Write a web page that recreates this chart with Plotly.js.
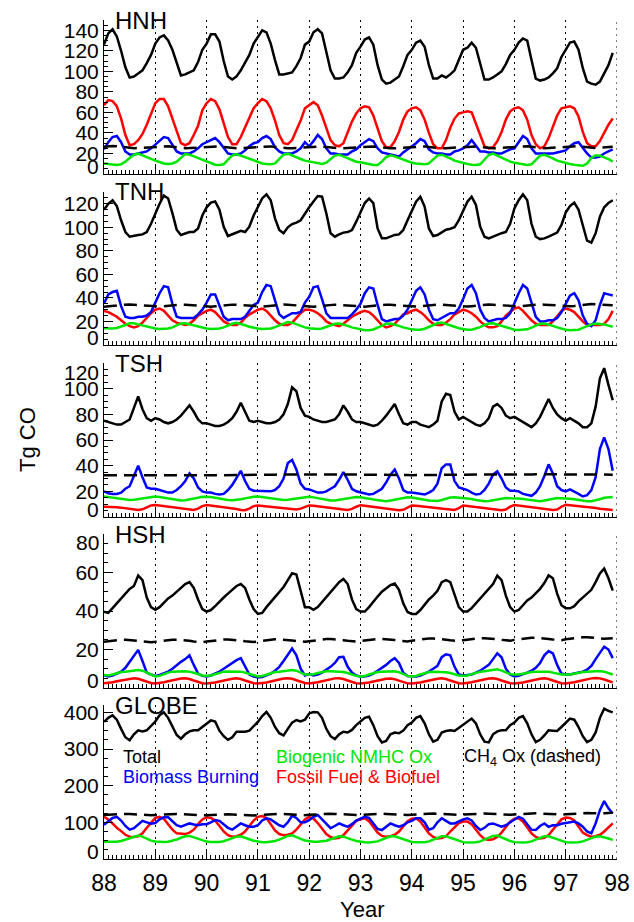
<!DOCTYPE html>
<html>
<head>
<meta charset="utf-8">
<script src="https://cdn.plot.ly/plotly-3.0.1.min.js"></script>
<style>
  html, body { margin: 0; padding: 0; background: #fff; }
  #chart { width: 634px; height: 922px; }
</style>
</head>
<body>
<div id="chart"></div>
<script>
// Monthly CO burden by source tag, Jan 1988 .. Dec 1997 (Tg CO).
// One row per year, twelve months each.

const HNH_TOTAL = [
  126, 137, 141, 134, 120, 104, 94, 95, 98, 101, 108, 116,
  127, 133, 135, 130, 121, 108, 96, 97, 99, 101, 109, 121,
  127, 136, 136, 129, 110, 95, 92, 95, 101, 108, 116, 127,
  134, 140, 138, 127, 111, 97, 97, 98, 99, 105, 113, 126,
  129, 138, 141, 137, 118, 101, 93, 93, 94, 99, 106, 118,
  124, 131, 133, 126, 106, 92, 88, 89, 92, 95, 105, 116,
  121, 128, 130, 124, 106, 93, 93, 96, 94, 97, 101, 111,
  121, 123, 128, 123, 108, 92, 92, 94, 97, 100, 107, 116,
  121, 128, 132, 130, 111, 93, 91, 92, 94, 98, 103, 114,
  121, 128, 129, 121, 103, 90, 88, 87, 90, 98, 106, 118
];
const HNH_FOSSIL = [
  67, 72, 71, 66, 54, 38, 28, 29, 33, 39, 48, 58,
  69, 73, 73, 66, 54, 40, 30, 28, 30, 38, 47, 62,
  69, 73, 71, 63, 49, 36, 29, 29, 36, 45, 54, 64,
  69, 73, 71, 64, 52, 38, 30, 29, 33, 43, 52, 64,
  67, 70, 67, 57, 45, 33, 28, 27, 30, 41, 51, 59,
  64, 66, 65, 57, 45, 32, 26, 26, 32, 41, 53, 61,
  64, 65, 62, 53, 40, 29, 25, 25, 33, 45, 54, 59,
  60, 61, 60, 49, 36, 27, 25, 26, 32, 41, 53, 61,
  64, 65, 62, 53, 38, 29, 25, 27, 35, 46, 57, 64,
  65, 66, 64, 56, 41, 30, 27, 27, 32, 40, 48, 54
];
const HNH_BIOMASS = [
  24, 31, 36, 37, 31, 22, 19, 19, 20, 21, 22, 25,
  29, 32, 36, 35, 28, 22, 20, 20, 20, 22, 25, 29,
  31, 33, 35, 31, 25, 20, 19, 19, 20, 23, 27, 30,
  31, 35, 37, 34, 26, 22, 20, 20, 20, 22, 25, 31,
  27, 32, 38, 34, 25, 20, 20, 19, 19, 19, 22, 24,
  28, 31, 34, 32, 25, 21, 20, 19, 18, 17, 21, 24,
  27, 30, 34, 32, 24, 21, 20, 20, 19, 19, 22, 23,
  25, 28, 33, 27, 22, 22, 21, 21, 20, 20, 22, 24,
  25, 31, 37, 34, 25, 20, 20, 20, 20, 20, 21, 22,
  23, 27, 30, 31, 25, 20, 16, 16, 17, 20, 22, 24
];
const HNH_BIOGENIC = [
  10.3, 9.7, 9.4, 8.7, 9.4, 12, 15.6, 18.8, 19.8, 17.9, 16.2, 14.6,
  13, 11.7, 10.3, 9.7, 10.3, 12, 15.6, 19.5, 18.8, 17.2, 15.3, 14,
  12, 10.3, 9, 8.7, 9.4, 14, 17.9, 19.5, 17.9, 16.2, 14.6, 13,
  11.7, 10.3, 9.7, 9.4, 10.3, 14.6, 18.8, 19.8, 17.9, 15.9, 14.6, 13,
  12, 11, 10.3, 9.7, 11, 14.6, 17.9, 18.8, 17.2, 15.6, 14, 12,
  11.4, 10.3, 9.4, 8.7, 8.7, 12, 16.5, 18.2, 17.2, 15.6, 14, 12,
  11, 10.3, 9.7, 9.4, 10.3, 14, 17.9, 18.8, 17.2, 15.3, 13, 11.7,
  10.6, 9.7, 9, 8.7, 9.4, 14, 18.5, 19.8, 17.9, 15.9, 14, 12,
  11, 10, 9.4, 8.7, 9.4, 14, 17.9, 18.8, 17.2, 15.3, 13, 11.7,
  10.3, 9.7, 9, 8.4, 8, 10.3, 15.6, 18.2, 17.9, 16.2, 14.6, 12
];
const HNH_CH4 = [
  26.5, 27, 27.2, 27, 26.5, 26, 25.5, 25.2, 25.3, 25.6, 26, 26.3,
  26.6, 27, 27.2, 27, 26.5, 26, 25.5, 25.2, 25.3, 25.6, 26, 26.3,
  26.5, 26.9, 27.1, 26.9, 26.4, 25.9, 25.4, 25.1, 25.2, 25.5, 25.9, 26.2,
  26.5, 26.9, 27.1, 26.9, 26.4, 25.9, 25.4, 25.1, 25.2, 25.5, 25.9, 26.2,
  26.4, 26.8, 27, 26.8, 26.3, 25.8, 25.3, 25, 25.1, 25.4, 25.8, 26.1,
  26.4, 26.8, 27, 26.8, 26.3, 25.8, 25.3, 25, 25.1, 25.4, 25.8, 26.1,
  26.5, 26.9, 27.1, 26.9, 26.4, 25.9, 25.4, 25.1, 25.2, 25.5, 25.9, 26.2,
  26.5, 26.9, 27.1, 26.9, 26.4, 25.9, 25.4, 25.1, 25.2, 25.5, 25.9, 26.2,
  26.6, 27, 27.2, 27, 26.5, 26, 25.5, 25.2, 25.3, 25.6, 26, 26.3,
  26.7, 27.1, 27.3, 27.1, 26.6, 26.1, 25.6, 25.3, 25.5, 25.8, 26.2, 26.6
];

const TNH_TOTAL = [
  115, 120, 123, 118, 106, 96, 92, 93, 93.5, 94, 96, 103,
  112, 120, 127, 124.5, 112, 98, 93.5, 95, 96, 96, 99, 110,
  117, 121, 122, 115, 100.5, 92.6, 94, 96, 97, 96, 100.5, 110,
  118, 124.5, 128, 123, 107.6, 97.7, 95, 100, 102.8, 104, 106, 112,
  117, 122, 126.6, 126, 112, 95, 92, 94, 95.5, 96, 97.7, 104.8,
  113.4, 120.6, 124.5, 120.6, 99, 90.6, 90.6, 92, 93.5, 94, 97.7, 106,
  114, 121.8, 126, 117.5, 99, 92.6, 93.5, 95.5, 98, 98.8, 100, 106,
  114.7, 121.8, 126, 119, 100.5, 92, 90.6, 92, 94, 95, 96, 103,
  116, 123, 128, 123, 103, 92, 90, 90.6, 92, 93.5, 95.5, 102,
  112.5, 118, 121, 115, 100.5, 88.6, 87, 95, 109, 117, 120.6, 123
];
const TNH_FOSSIL = [
  29, 28, 26, 24, 21, 18, 16, 15, 16, 19, 23, 27,
  30, 31, 29, 25, 21, 19, 18, 17, 18, 21, 25, 27,
  29, 30, 28, 24, 20, 18, 17, 17, 19, 23, 26, 28,
  30, 31, 29, 25, 21, 18, 17, 17, 19, 23, 27, 30,
  30, 29, 27, 24, 20, 18, 17, 16, 18, 21, 24, 26,
  28, 29, 28, 25, 21, 17, 15, 16, 18, 22, 26, 27,
  29, 30, 28, 25, 21, 18, 17, 17, 19, 22, 26, 28,
  30, 29, 27, 24, 20, 17, 15, 15, 16, 20, 25, 28,
  31, 32, 29, 25, 21, 18, 17, 17, 17, 20, 25, 29,
  31, 30, 28, 24, 20, 17, 17, 17, 17, 18, 22, 29
];
const TNH_BIOMASS = [
  35, 43, 45, 46, 33, 24, 23, 23, 24, 24, 25, 28,
  36, 44, 50, 49, 35, 24, 23, 23, 23, 23, 26, 30,
  36, 43, 43, 33, 24, 21, 22, 22, 22, 24, 29, 34,
  36, 45, 51, 50, 38, 26, 23, 25, 27, 27, 28, 36,
  41, 49, 50, 39, 27, 23, 23, 23, 23, 23, 26, 30,
  35, 44, 49, 48, 34, 22, 20, 21, 22, 22, 25, 30,
  38, 46, 49, 43, 30, 22, 21, 23, 25, 27, 27, 31,
  39, 48, 51, 44, 30, 23, 20, 21, 22, 22, 23, 27,
  36, 44, 51, 48, 36, 24, 20, 20, 21, 21, 23, 28,
  35, 42, 44, 38, 25, 18, 16, 21, 34, 44, 43, 42
];
const TNH_BIOGENIC = [
  14.2, 14, 14, 14.5, 15.5, 17, 18.5, 18.5, 17.5, 16.5, 15.5, 14.5,
  14, 13.5, 13.5, 14, 15, 16.5, 18.3, 18.5, 17.5, 16.5, 15.5, 14.5,
  14, 13.5, 13.5, 14, 15, 16.5, 18, 18.8, 18, 16.8, 15.5, 14.5,
  14, 13.5, 13.5, 14, 15.2, 16.8, 18.5, 19.5, 19, 17.5, 16, 15,
  14.2, 13.8, 13.5, 14, 15.2, 16.8, 18, 18.3, 17.5, 16.3, 15, 14,
  13, 12.5, 12.5, 13.2, 14.8, 16.5, 18, 18.3, 17.5, 16.3, 15, 14,
  13.3, 13, 13, 13.8, 15.2, 17, 18.5, 19, 18, 16.8, 15.5, 14.3,
  13.5, 13, 13, 13.8, 15.2, 17, 18.3, 18.5, 17.5, 16.3, 15, 14,
  13, 12.7, 12.7, 13.3, 14.8, 16.5, 18, 18.3, 17.5, 16.3, 15, 13.8,
  13, 12.5, 12.5, 13, 14.5, 16, 17.5, 18.3, 18, 17.5, 16.5, 15.5
];
const TNH_CH4 = [
  32.6, 32.7, 33, 33.5, 34, 34.3, 34.4, 34.2, 33.9, 33.5, 33.1, 32.8,
  32.6, 32.7, 33, 33.5, 34, 34.3, 34.4, 34.2, 33.9, 33.5, 33.1, 32.8,
  32.5, 32.6, 32.9, 33.4, 33.9, 34.2, 34.3, 34.1, 33.8, 33.4, 33, 32.7,
  32.6, 32.7, 33, 33.5, 34, 34.3, 34.4, 34.2, 33.9, 33.5, 33.1, 32.8,
  32.5, 32.6, 32.9, 33.4, 33.9, 34.2, 34.3, 34.1, 33.8, 33.4, 33, 32.7,
  32.5, 32.6, 32.9, 33.4, 33.9, 34.2, 34.3, 34.1, 33.8, 33.4, 33, 32.7,
  32.6, 32.7, 33, 33.5, 34, 34.3, 34.4, 34.2, 33.9, 33.5, 33.1, 32.8,
  32.6, 32.7, 33, 33.5, 34, 34.3, 34.4, 34.2, 33.9, 33.5, 33.1, 32.8,
  32.7, 32.8, 33.1, 33.6, 34.1, 34.4, 34.5, 34.3, 34, 33.6, 33.2, 32.9,
  32.8, 32.9, 33.2, 33.7, 34.2, 34.6, 34.8, 34.7, 34.5, 34.2, 33.9, 33.7
];

const TSH_TOTAL = [
  75, 74, 73, 72, 72, 74, 76, 85, 94, 84, 77, 75,
  77, 76, 74, 73, 74, 76, 79, 83, 87, 82, 76, 73,
  73, 72, 71, 71, 72, 74, 77, 82, 89, 82, 75, 74,
  75, 74, 73, 73, 74, 76, 80, 88, 101, 98, 85, 79,
  78, 76, 75, 74, 74, 75, 76, 80, 87, 82, 76, 74,
  74, 73, 72, 71, 72, 75, 79, 84, 88, 80, 73, 72,
  74, 74, 72, 71, 70, 72, 75, 90, 96, 95, 82, 76,
  78, 76, 74, 72, 71, 73, 77, 86, 88, 85, 79, 77,
  78, 76, 74, 72, 70, 73, 78, 85, 92, 85, 80, 77,
  75, 77, 75, 73, 70, 70, 73, 86, 108, 116, 103, 91
];
const TSH_FOSSIL = [
  8, 8, 7.8, 7.5, 7.3, 7, 6.5, 6, 5.5, 6, 7.5, 9,
  9.4, 9, 8.5, 8, 7.5, 7.2, 6.8, 6.5, 6, 5.5, 6.5, 8.5,
  9.4, 9, 8.5, 8, 7.6, 7.2, 6.8, 6.3, 5.5, 5.3, 6.5, 8.5,
  9, 8.6, 8.3, 8, 7.6, 7.3, 7, 6.5, 6, 5.8, 6.5, 8,
  9, 8.8, 8.3, 8, 7.5, 7, 6.7, 6.3, 5.8, 5.5, 6.3, 8,
  9.2, 8.8, 8.4, 8, 7.5, 7.2, 6.8, 6.2, 5.5, 5.2, 5.6, 7.5,
  9, 8.7, 8.3, 8, 7.6, 7.2, 6.8, 6.4, 6, 5.6, 5.5, 7,
  9, 8.6, 8.2, 7.8, 7.5, 7.2, 6.8, 6.3, 5.7, 5.3, 5.8, 8,
  9.4, 9, 8.6, 8.2, 7.8, 7.4, 7, 6.5, 6, 5.5, 5.8, 8,
  9.5, 9.2, 8.8, 8.3, 7.8, 7.5, 7.2, 7, 6.5, 6, 5.5, 5.5
];
const TSH_BIOMASS = [
  20, 18.5, 18, 18, 19, 22, 24, 32, 40, 31, 23, 22,
  22, 21, 20, 19, 19, 21, 24, 28, 34, 30, 23, 20,
  19, 19, 18, 17.5, 18, 21, 25, 30, 36, 28, 22, 20.5,
  20.5, 20.5, 20.5, 20, 21, 24, 30, 42, 44.5, 37, 26, 22,
  21.5, 20, 19, 19, 20, 22, 24, 29, 35, 29, 22, 20,
  19, 18, 17.5, 18, 20, 22, 27, 33, 37, 30, 21, 19,
  19, 18.5, 17.5, 17.5, 19, 21, 26, 38, 41, 41, 28, 23,
  22, 21, 19, 17.5, 18, 21, 26, 33, 35.5, 30, 23, 20.5,
  20.5, 20, 18, 17, 16.5, 19, 24, 32, 41, 34, 24, 21,
  20, 21.5, 20, 18, 16, 17, 21, 31, 53, 62, 53, 36
];
const TSH_BIOGENIC = [
  16, 15.5, 15, 14.5, 14, 13.5, 13.3, 13.5, 14, 14.5, 15, 15.8,
  16, 15.5, 15, 14.5, 13.8, 13.2, 12.8, 13, 13.5, 14.3, 15, 15.8,
  15.8, 15.5, 15, 14.3, 13.7, 13.2, 13, 13.2, 13.8, 14.5, 15.2, 15.8,
  16, 15.6, 15, 14.5, 14, 13.5, 13.3, 13.5, 14, 14.6, 15.2, 15.8,
  15.8, 15.3, 14.6, 13.8, 13.2, 12.8, 12.8, 13.3, 14, 14.8, 15.3, 15.6,
  15.4, 15, 14.3, 13.6, 13, 12.5, 12.3, 12.8, 13.5, 14.3, 15, 15.3,
  15.2, 14.8, 14.2, 13.5, 12.8, 12.4, 12.5, 13.3, 14.5, 15.2, 15.3, 15,
  14.8, 14.5, 14, 13.3, 12.7, 12.3, 12.4, 13, 13.8, 14.5, 14.8, 14.6,
  14.6, 14.4, 14, 13.5, 12.8, 12.3, 12.3, 12.8, 13.5, 14.2, 14.8, 14.7,
  14.6, 14.3, 13.8, 13.2, 12.6, 12.2, 12.3, 12.8, 13.8, 15, 15.5, 15.5
];
const TSH_CH4 = [
  32.6, 32.6, 32.7, 32.9, 33, 33.1, 33.1, 33, 32.9, 32.8, 32.7, 32.6,
  32.6, 32.6, 32.7, 32.9, 33, 33.1, 33.1, 33, 32.9, 32.8, 32.7, 32.6,
  32.5, 32.5, 32.6, 32.8, 32.9, 33, 33, 32.9, 32.8, 32.7, 32.6, 32.5,
  32.6, 32.6, 32.7, 32.9, 33, 33.1, 33.1, 33, 32.9, 32.8, 32.7, 32.6,
  32.7, 32.7, 32.8, 33, 33.1, 33.2, 33.2, 33.1, 33, 32.9, 32.8, 32.7,
  32.7, 32.7, 32.8, 33, 33.1, 33.2, 33.2, 33.1, 33, 32.9, 32.8, 32.7,
  32.6, 32.6, 32.7, 32.9, 33, 33.1, 33.1, 33, 32.9, 32.8, 32.7, 32.6,
  32.7, 32.7, 32.8, 33, 33.1, 33.2, 33.2, 33.1, 33, 32.9, 32.8, 32.7,
  32.8, 32.8, 32.9, 33.1, 33.2, 33.3, 33.3, 33.2, 33.1, 33, 32.9, 32.8,
  32.8, 32.8, 32.9, 33.1, 33.2, 33.3, 33.3, 33.2, 33.1, 33, 33, 33
];

const HSH_TOTAL = [
  39.7, 39, 41.5, 44, 47, 49.5, 51.5, 53, 58.4, 56, 47, 42,
  40.6, 42, 44.5, 46.5, 48, 50, 52, 54, 55, 52, 46, 41,
  39.7, 40.5, 42.5, 45, 47, 49, 51, 53, 54, 52, 46, 41,
  38.5, 39, 42, 44.5, 47, 49.5, 52.5, 56, 59.6, 59, 51, 42,
  42, 40.6, 42, 44.5, 47.5, 50, 52.5, 55, 56.6, 54, 46, 41,
  39.7, 39.7, 42, 45, 47.5, 50, 52, 53.5, 54.3, 51, 44, 39.5,
  38.5, 38.5, 40.5, 43.5, 46, 48, 50.5, 55, 56, 55, 48, 42,
  39.7, 39.7, 41.5, 44, 46.5, 49, 51, 54, 58.4, 56, 48, 42,
  39.7, 40.5, 43, 45.5, 47, 49, 51.5, 54.5, 58.5, 57, 49, 43,
  41.4, 41.4, 42.5, 45, 47, 49.5, 51, 55, 59.5, 62, 57, 50.6
];
const HSH_FOSSIL = [
  2.5, 2.7, 3, 3.5, 4, 4.5, 4.9, 5.1, 4.8, 4, 3.2, 2.6,
  2.4, 2.6, 3, 3.5, 4.1, 4.6, 4.9, 5, 4.7, 3.9, 3.1, 2.5,
  2.3, 2.5, 2.9, 3.4, 4, 4.5, 4.8, 5, 4.7, 3.9, 3.1, 2.5,
  2.3, 2.5, 2.9, 3.4, 4, 4.5, 4.9, 5.1, 4.8, 4, 3.2, 2.6,
  2.4, 2.6, 3, 3.5, 4.1, 4.6, 5, 5.1, 4.7, 3.9, 3.1, 2.5,
  2.3, 2.5, 2.9, 3.4, 4, 4.5, 4.8, 4.9, 4.6, 3.8, 3, 2.4,
  2.3, 2.5, 2.9, 3.4, 4, 4.5, 4.8, 5, 4.7, 3.9, 3.1, 2.5,
  2.4, 2.6, 3, 3.5, 4.1, 4.6, 4.9, 5, 4.7, 3.9, 3.1, 2.5,
  2.3, 2.5, 2.9, 3.4, 4, 4.5, 4.8, 5, 4.7, 3.9, 3.1, 2.5,
  2.4, 2.6, 3, 3.5, 4.1, 4.6, 5, 5.2, 5, 4.4, 3.6, 2.9
];
const HSH_BIOMASS = [
  6.6, 6, 6.5, 7.5, 8.5, 10.5, 13.6, 17, 19.8, 14, 8, 7,
  6.3, 6.8, 7.5, 8.5, 10, 12, 13.6, 15, 17, 12, 7.5, 6.3,
  6, 6.5, 7.5, 8.5, 10, 11.5, 13, 14.5, 15.5, 11, 7, 6,
  5.5, 5.7, 6.5, 7.5, 9, 11, 14, 17.5, 20.5, 17, 10, 6.5,
  7.2, 6.5, 7, 8, 9.5, 11, 13, 16, 16.2, 11, 8, 6.5,
  6, 6, 6.5, 7.5, 9, 10.5, 12, 14, 15.5, 13, 8, 6.2,
  6, 6, 6.5, 7.5, 8.5, 10, 11.5, 16, 17.5, 17, 11, 7,
  6.6, 6.7, 7, 8, 9, 10.5, 12, 15, 18, 16, 10, 7,
  6, 6.3, 7, 8, 9, 10.5, 13, 17, 19.2, 18, 12, 7.5,
  7, 7, 7.5, 8, 8.5, 9.5, 11.5, 15, 18.5, 21.5, 20, 15.5
];
const HSH_BIOGENIC = [
  6.8, 6.5, 7, 7.8, 8.3, 8.5, 8.7, 9, 9.4, 9, 8, 7,
  6, 6.3, 7.2, 8, 8.5, 8.6, 8.7, 8.7, 8.5, 8, 7.3, 6.5,
  6.3, 6.5, 7.3, 8, 8.5, 8.6, 8.6, 8.6, 8.5, 8, 7.2, 6.5,
  6, 6.2, 7, 7.8, 8.3, 8.5, 8.8, 9.2, 9.4, 9, 8, 7,
  7, 7.2, 7.8, 8.4, 8.7, 8.7, 8.6, 8.5, 8.3, 7.8, 7, 6.3,
  6, 6.2, 7, 7.8, 8.3, 8.5, 8.6, 8.7, 8.7, 8.2, 7.2, 6.3,
  6, 6.3, 7, 7.8, 8.3, 8.5, 8.5, 8.4, 8.2, 7.8, 7, 6.5,
  6.3, 6.5, 7.2, 7.9, 8.4, 8.7, 9, 9.5, 9.7, 9, 8, 7.2,
  7, 7, 7.4, 8, 8.3, 8.5, 8.6, 8.6, 8.5, 8, 7.3, 7,
  7, 7, 7.4, 8, 8.3, 8.5, 8.6, 8.7, 8.8, 8.5, 7.8, 7
];
const HSH_CH4 = [
  24, 24.3, 24.7, 25, 25.1, 25.1, 25, 24.8, 24.5, 24.2, 23.9, 23.8,
  24, 24.3, 24.7, 25, 25.1, 25.1, 25, 24.8, 24.5, 24.2, 23.9, 23.8,
  24.1, 24.4, 24.8, 25.1, 25.2, 25.2, 25.1, 24.9, 24.6, 24.3, 24, 23.9,
  24.2, 24.5, 24.9, 25.2, 25.3, 25.3, 25.2, 25, 24.7, 24.4, 24.1, 24,
  24.3, 24.6, 25, 25.3, 25.4, 25.4, 25.3, 25.1, 24.8, 24.5, 24.2, 24.1,
  24.4, 24.7, 25.1, 25.4, 25.5, 25.5, 25.4, 25.2, 24.9, 24.6, 24.3, 24.2,
  24.6, 24.9, 25.3, 25.6, 25.7, 25.7, 25.6, 25.4, 25.1, 24.8, 24.5, 24.4,
  24.8, 25.1, 25.5, 25.8, 25.9, 25.9, 25.8, 25.6, 25.3, 25, 24.7, 24.6,
  25, 25.3, 25.7, 26, 26.1, 26.1, 26, 25.8, 25.5, 25.2, 24.9, 24.8,
  25.3, 25.6, 26, 26.3, 26.4, 26.4, 26.3, 26.1, 25.8, 25.6, 25.6, 25.8
];

const GLOBE_TOTAL = [
  374, 385, 392, 380, 355, 332, 324, 340, 351, 348, 351, 362,
  375, 392, 400, 385, 360, 338, 328, 340, 348, 351, 351, 360,
  370, 378, 375, 350, 335, 325, 332, 347, 347, 347, 350, 362,
  374, 390, 401, 385, 360, 343, 337, 355, 372, 379, 375, 380,
  397, 401, 400, 385, 355, 335, 327, 340, 347, 345, 352, 365,
  375, 385, 388, 365, 335, 318, 322, 340, 345, 343, 350, 365,
  372, 385, 390, 370, 340, 320, 325, 345, 349, 351, 349, 358,
  365, 375, 383, 370, 340, 320, 318, 340, 348, 351, 351, 365,
  372, 385, 390, 370, 340, 319, 325, 337, 351, 350, 349, 360,
  372, 383, 380, 360, 335, 319, 325, 345, 385, 410, 404, 400
];
const GLOBE_FOSSIL = [
  115, 108, 97, 85, 76, 66, 61, 60, 62, 70, 85, 100,
  112, 115, 110, 95, 80, 70, 68, 68, 72, 80, 95, 108,
  114, 112, 105, 90, 75, 65, 61, 62, 66, 75, 90, 105,
  115, 117, 112, 95, 78, 68, 65, 66, 70, 80, 95, 108,
  115, 110, 98, 82, 68, 60, 56, 58, 65, 78, 92, 104,
  108, 111, 103, 88, 72, 63, 61, 62, 66, 75, 90, 103,
  110, 111, 102, 85, 70, 60, 56, 57, 62, 75, 88, 98,
  102, 102, 95, 80, 65, 55, 52, 54, 60, 72, 88, 102,
  110, 111, 102, 86, 70, 60, 56, 58, 65, 80, 95, 108,
  113, 112, 105, 88, 72, 65, 60, 62, 66, 75, 85, 97
];
const GLOBE_BIOMASS = [
  93, 103, 112, 115, 105, 90, 80, 84, 95, 104, 100, 96,
  98, 108, 114, 114, 103, 92, 88, 93, 97, 94, 92, 95,
  95, 100, 106, 104, 95, 85, 80, 88, 97, 92, 88, 88,
  92, 105, 111, 108, 100, 92, 88, 100, 118, 112, 100, 100,
  106, 115, 120, 108, 94, 84, 90, 97, 92, 88, 95, 105,
  110, 115, 112, 98, 82, 79, 88, 97, 92, 88, 92, 100,
  104, 111, 111, 100, 80, 84, 100, 111, 104, 97, 97, 103,
  108, 111, 105, 90, 79, 85, 95, 97, 92, 88, 92, 100,
  106, 115, 110, 95, 80, 79, 90, 97, 88, 92, 92, 96,
  98, 100, 102, 97, 88, 75, 70, 97, 133, 158, 138, 124
];
const GLOBE_BIOGENIC = [
  47, 46.5, 46.5, 47, 49, 53, 58, 62, 64, 61, 55, 50,
  47.5, 46.5, 46.5, 47, 49, 53, 58, 62, 63, 59, 54, 50,
  47.5, 46.5, 46, 46.5, 48.5, 52.5, 57, 61, 62, 59, 54, 50,
  47, 46, 46, 46.5, 49, 53, 58, 63, 65, 61, 55, 50.5,
  48, 47, 47, 48, 50, 54, 59, 62, 61, 58, 53, 49,
  46.5, 45.5, 45, 45.5, 48, 53, 58, 62, 62, 58, 53, 49,
  46.5, 45.5, 45, 45.5, 48, 53, 58, 62, 62, 58, 53, 49,
  46, 45, 45, 45.5, 48, 53, 59, 63, 64, 59, 53.5, 49,
  46, 45, 45, 45.5, 48, 53, 58, 62, 62, 58, 53, 49,
  46, 45, 45, 45.5, 48, 52, 57, 61, 62, 60, 56, 52
];
const GLOBE_CH4 = [
  120, 121, 122, 122.5, 123, 123, 122.5, 121.5, 120.5, 119.5, 119, 119.5,
  120, 121, 122, 122.5, 123, 123, 122.5, 121.5, 120.5, 119.5, 119, 119.5,
  119, 120, 121, 121.5, 122, 122, 121.5, 120.5, 119.5, 118.5, 118, 118.5,
  120, 121, 122, 122.5, 123, 123, 122.5, 121.5, 120.5, 119.5, 119, 119.5,
  120.5, 121.5, 122.5, 123, 123.5, 123.5, 123, 122, 121, 120, 119.5, 120,
  120.5, 121.5, 122.5, 123, 123.5, 123.5, 123, 122, 121, 120, 119.5, 120,
  121, 122, 123, 123.5, 124, 124, 123.5, 122.5, 121.5, 120.5, 120, 120.5,
  121, 122, 123, 123.5, 124, 124, 123.5, 122.5, 121.5, 120.5, 120, 120.5,
  121.5, 122.5, 123.5, 124, 124.5, 124.5, 124, 123, 122, 121, 120.5, 121,
  122, 123, 124, 125, 125.5, 125.5, 125, 124.5, 124, 124.5, 125.5, 126.5
];

const PANEL_NAMES = ['HNH', 'TNH', 'TSH', 'HSH', 'GLOBE'];
const YEAR_TICKS = [88, 89, 90, 91, 92, 93, 94, 95, 96, 97, 98];
const LEGEND_LABELS = ['Total', 'Biomass Burning', 'Biogenic NMHC Ox', 'Fossil Fuel & Biofuel', 'CH<sub>4</sub> Ox (dashed)'];

// month positions on the year axis (Jan 88 = 88.0)
const MONTHS = Array.from({ length: 120 }, (_, i) => 88 + i / 12);

const PANEL_SERIES = [
  [HNH_TOTAL, HNH_FOSSIL, HNH_BIOMASS, HNH_BIOGENIC, HNH_CH4],
  [TNH_TOTAL, TNH_FOSSIL, TNH_BIOMASS, TNH_BIOGENIC, TNH_CH4],
  [TSH_TOTAL, TSH_FOSSIL, TSH_BIOMASS, TSH_BIOGENIC, TSH_CH4],
  [HSH_TOTAL, HSH_FOSSIL, HSH_BIOMASS, HSH_BIOGENIC, HSH_CH4],
  [GLOBE_TOTAL, GLOBE_FOSSIL, GLOBE_BIOMASS, GLOBE_BIOGENIC, GLOBE_CH4]
];

const FONT = 'Liberation Sans, Arial, Helvetica, sans-serif';
const BLUE = '#0000ff';
const RED = '#ff0000';
const GREEN = '#00e600';
const DOTS = '2px,4px';
const STYLES = [
  { color: '#000', dash: 'solid' },
  { color: RED, dash: 'solid' },
  { color: BLUE, dash: 'solid' },
  { color: GREEN, dash: 'solid' },
  { color: '#000', dash: '13px,7px' }
];

// axis layout per panel, in window pixels (plot area spans y 20..859)
const PLOT_TOP = 20, PLOT_BOTTOM = 859;
const PANEL_PX = [[20, 174], [192, 345], [363, 517], [534, 688], [705, 859]];
const Y_RANGE = [[0, 150], [0, 130], [0, 120], [0, 80], [0, 420]];
const Y_STEP = [20, 20, 20, 20, 100];
const Y_MINOR = [5, 5, 5, 5, 25];
const Y_TOP_LABEL = [140, 120, 120, 80, 400];
const TOP_LABEL_SHIFT = [0, 0, -9, -8, 0];

const frac = px => (PLOT_BOTTOM - px) / (PLOT_BOTTOM - PLOT_TOP);

const traces = [];
const layout = {
  width: 634, height: 922,
  margin: { l: 104, r: 17, t: PLOT_TOP, b: 922 - PLOT_BOTTOM },
  paper_bgcolor: '#fff', plot_bgcolor: '#fff',
  font: { family: FONT, color: '#000', size: 21 },
  showlegend: false,
  annotations: [],
  shapes: []
};

PANEL_NAMES.forEach((name, p) => {
  const n = p === 0 ? '' : String(p + 1);
  const [top, bottom] = PANEL_PX[p];
  const last = p === PANEL_NAMES.length - 1;

  PANEL_SERIES[p].forEach((ys, s) => {
    traces.push({
      type: 'scatter', mode: 'lines',
      x: MONTHS, y: ys,
      xaxis: 'x' + n, yaxis: 'y' + n,
      line: { color: STYLES[s].color, width: 2.5, dash: STYLES[s].dash },
      hoverinfo: 'skip', showlegend: false
    });
  });

  layout['xaxis' + n] = {
    domain: [0, 1], anchor: 'y' + n,
    range: [88, 98], tickmode: 'array', tickvals: YEAR_TICKS,
    ticktext: YEAR_TICKS.map(String),
    showticklabels: last, ticks: 'inside', ticklen: 8, tickwidth: 1, tickcolor: '#000',
    tickfont: { size: 23, family: FONT }, ticklabelstandoff: 3,
    minor: { ticks: 'inside', ticklen: 4, tickwidth: 1, tickcolor: '#000',
             tickmode: 'linear', tick0: 88, dtick: 1 / 12, showgrid: false },
    showgrid: true, gridcolor: '#000', gridwidth: 1, griddash: DOTS,
    showline: true, linecolor: '#000', linewidth: 1, zeroline: false, fixedrange: true
  };

  // right-hand edge at 98 is a dotted year line, not an axis
  layout.shapes.push({
    type: 'line', xref: 'x' + n, yref: 'y' + n + ' domain',
    x0: 98, x1: 98, y0: 0, y1: 1,
    line: { color: '#000', width: 1, dash: DOTS }
  });

  const [y0, y1] = Y_RANGE[p];
  const vals = [];
  for (let v = y0; v <= y1; v += Y_STEP[p]) vals.push(v);
  // zero label and a few top labels sit off their ticks in the original; drawn as annotations
  const shifted = v => v === 0 || (v === Y_TOP_LABEL[p] && TOP_LABEL_SHIFT[p] !== 0);
  layout['yaxis' + n] = {
    domain: [frac(bottom), frac(top)], anchor: 'x' + n,
    range: [y0, y1], tickmode: 'array', tickvals: vals,
    ticktext: vals.map(v => shifted(v) ? ' ' : String(v)),
    ticks: 'inside', ticklen: 9, tickwidth: 1, tickcolor: '#000',
    tickfont: { size: 21, family: FONT },
    minor: { ticks: 'inside', ticklen: 4, tickwidth: 1, tickcolor: '#000',
             tickmode: 'linear', tick0: 0, dtick: Y_MINOR[p], showgrid: false },
    showgrid: false, showline: true, linecolor: '#000', linewidth: 1,
    zeroline: false, fixedrange: true
  };

  vals.filter(shifted).forEach(v => {
    layout.annotations.push({
      xref: 'paper', x: 0, xanchor: 'right', xshift: -3,
      yref: 'y' + n, y: v, yanchor: 'middle',
      yshift: v === 0 ? 8 : TOP_LABEL_SHIFT[p],
      text: String(v), showarrow: false, font: { size: 21, family: FONT, color: '#000' }
    });
  });

  layout.annotations.push({
    xref: 'paper', x: 0.0175, xanchor: 'left',
    yref: 'paper', y: frac(top), yanchor: 'middle',
    text: name, showarrow: false, font: { size: 24, family: FONT, color: '#000' }
  });
});

// key written inside the GLOBE panel
const KEY_POS = [[122, 757], [122, 777], [275, 757], [275, 777], [463, 757]];
const KEY_COLORS = ['#000', BLUE, GREEN, RED, '#000'];
LEGEND_LABELS.forEach((label, i) => {
  layout.annotations.push({
    xref: 'paper', x: (KEY_POS[i][0] - 104) / 513, xanchor: 'left',
    yref: 'paper', y: frac(KEY_POS[i][1]), yanchor: 'middle',
    text: label, showarrow: false, borderpad: 0,
    font: { size: 18, family: FONT, color: KEY_COLORS[i] }
  });
});

layout.annotations.push({
  xref: 'paper', x: (27 - 104) / 513, xanchor: 'center',
  yref: 'paper', y: frac(440), yanchor: 'middle', textangle: -90,
  text: 'Tg CO', showarrow: false, font: { size: 22, family: FONT, color: '#000' }
});
layout.annotations.push({
  xref: 'paper', x: (362 - 104) / 513, xanchor: 'center',
  yref: 'paper', y: frac(909), yanchor: 'middle',
  text: 'Year', showarrow: false, font: { size: 22, family: FONT, color: '#000' }
});

Plotly.newPlot('chart', traces, layout, { displayModeBar: false, staticPlot: true });
</script>
</body>
</html>
